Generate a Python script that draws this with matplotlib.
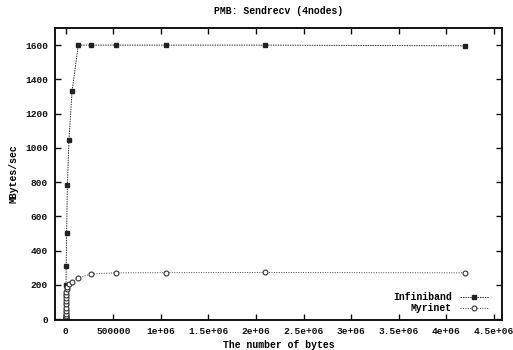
import numpy as np
import matplotlib
matplotlib.use("Agg")
import matplotlib.pyplot as plt

# message sizes (bytes) and throughput (MBytes/sec)
sizes = [0, 1, 2, 4, 8, 16, 32, 64, 128, 256, 512, 1024, 2048, 4096, 8192,
         16384, 32768, 65536, 131072, 262144, 524288, 1048576, 2097152, 4194304]
infiniband = [0, 0.3, 0.6, 1, 2, 4, 8, 16, 30, 55, 90, 140, 200, 310, 500,
              782, 1045, 1331, 1600, 1600, 1600, 1600, 1600, 1596]
myrinet = [0, 1, 2, 4, 8, 15, 28, 45, 65, 85, 105, 120, 140, 160, 175,
           190, 205, 218, 240, 263, 270, 271, 272, 270]

xticks = [0, 500000, 1e6, 1.5e6, 2e6, 2.5e6, 3e6, 3.5e6, 4e6, 4.5e6]
xticklabels = ["0", "500000", "1e+06", "1.5e+06", "2e+06", "2.5e+06",
               "3e+06", "3.5e+06", "4e+06", "4.5e+06"]
yticks = [0, 200, 400, 600, 800, 1000, 1200, 1400, 1600]

plt.rcParams['font.family'] = ['Liberation Mono', 'DejaVu Sans Mono']
plt.rcParams['font.weight'] = 'bold'

fig = plt.figure(figsize=(5.13, 3.5), dpi=100)
ax = fig.add_axes([0.107, 0.086, 0.872, 0.834])

ax.plot(sizes, infiniband, color='#333333', lw=0.7, ls=(0, (1.5, 1)),
        marker='s', ms=2.5, mfc='#222222', mec='#222222', label='Infiniband')
ax.plot(sizes, myrinet, color='#444444', lw=0.7, ls=(0, (1, 1.5)),
        marker='o', ms=3.5, mfc='white', mec='#333333', mew=0.8, label='Myrinet')

ax.set_xlim(-115000, 4.59e6)
ax.set_ylim(-5, 1700)
ax.set_xticks(xticks)
ax.set_xticklabels(xticklabels)
ax.set_yticks(yticks)
ax.tick_params(direction='in', length=4, width=1, top=True, right=True,
               labelsize=6.8, colors='#111111', pad=5)
for s in ax.spines.values():
    s.set_linewidth(1.4)
    s.set_color('#111111')

ax.set_title("PMB: Sendrecv (4nodes)", fontsize=7, fontweight='bold', pad=10)
ax.set_xlabel("The number of bytes", fontsize=7, fontweight='bold', labelpad=3)
ax.set_ylabel("MBytes/sec", fontsize=7, fontweight='bold', labelpad=5)

ax.legend(loc='lower right', frameon=False, markerfirst=False, fontsize=7,
          handlelength=3, borderaxespad=0.3, labelspacing=0.1,
          bbox_to_anchor=(0.985, 0.0))

fig.savefig("out.png", dpi=100)
